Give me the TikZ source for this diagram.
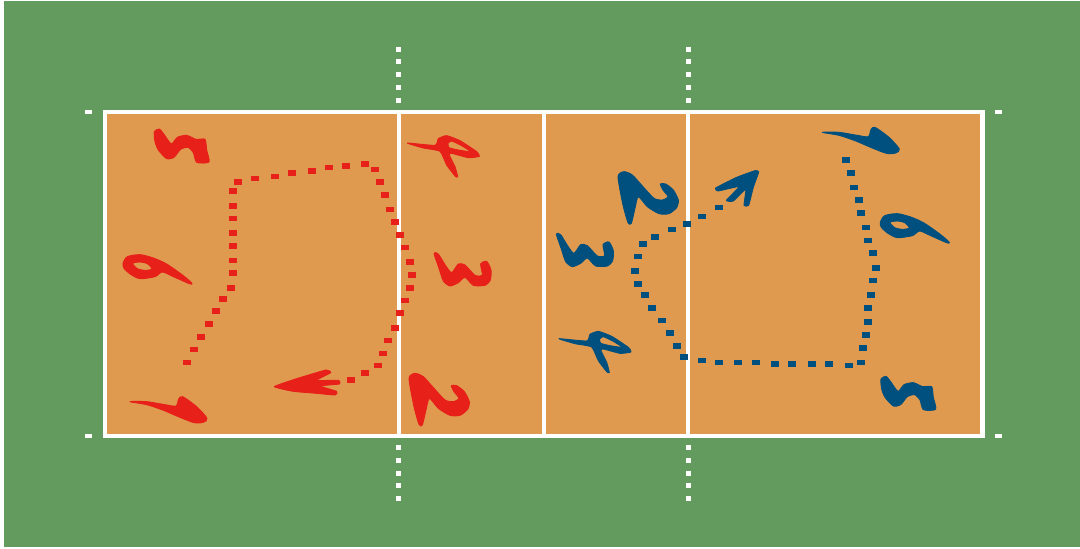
\documentclass[tikz,border=0pt]{standalone}
\definecolor{grass}{HTML}{639B5E}
\definecolor{court}{HTML}{DF9A4F}
\definecolor{teamred}{HTML}{E8201A}
\definecolor{teamblue}{HTML}{00507F}
\tikzset{
  lineW/.style={draw=white,line width=4.2pt},
  tickW/.style={fill=white},
  brush/.style={fill=#1,draw=#1,line width=0.9pt,line join=round},
}
\newcommand\numFive[1]{\filldraw[brush=#1] plot[smooth cycle,tension=.4] coordinates {(193,95)(208,87)(222,103)(244,132)(262,112)(290,106)(318,118)(345,118)(350,150)(357,186)(320,187)(310,158)(294,142)(272,148)(252,172)(230,176)(205,150)(195,125)};}
\newcommand\numSix[1]{\filldraw[brush=#1,even odd rule] plot[smooth cycle,tension=.45] coordinates {(99,490)(112,470)(150,464)(190,474)(230,492)(280,527)(306,550)(298,551)(250,530)(217,516)(195,530)(150,536)(122,523)(102,505)} plot[smooth cycle,tension=.45] coordinates {(128,490)(150,486)(172,491)(186,507)(165,511)(142,506)};}
\newcommand\numSeven[1]{\filldraw[brush=#1] plot[smooth cycle,tension=.45] coordinates {(120,905)(170,905)(225,914)(258,918)(266,897)(278,890)(320,920)(351,955)(340,967)(312,968)(265,950)(218,930)(170,914)};}
\newcommand\numFour[1]{\filldraw[brush=#1,even odd rule] plot[smooth cycle,tension=.3] coordinates {(952,129)(1035,136)(1045,116)(1070,107)(1110,122)(1160,155)(1168,169)(1135,173)(1085,160)(1078,165)(1095,200)(1103,230)(1096,229)(1070,195)(1050,154)(1000,144)} plot[smooth cycle,tension=.3] coordinates {(1074,130)(1085,123)(1115,137)(1142,155)(1105,150)(1077,143)};}
\newcommand\numThree[1]{\filldraw[brush=#1] plot[smooth cycle,tension=.4] coordinates {(1032,460)(1045,462)(1067,497)(1085,518)(1105,492)(1125,495)(1155,526)(1177,525)(1172,492)(1190,484)(1203,510)(1201,540)(1185,556)(1150,556)(1125,532)(1105,548)(1080,558)(1060,543)(1047,505)};}
\newcommand\numTwo[1]{\filldraw[brush=#1] plot[smooth cycle,tension=.4] coordinates {(957,835)(975,820)(1000,830)(1032,865)(1065,900)(1090,905)(1107,895)(1092,875)(1084,857)(1100,857)(1123,875)(1138,905)(1133,928)(1110,946)(1080,946)(1045,925)(1018,895)(1008,930)(997,975)(987,973)(972,920)};}
\begin{document}
\begin{tikzpicture}[x=1pt,y=-1pt]
\useasboundingbox (0,0) rectangle (1080,549);
\fill[white] (0,0) rectangle (1080,549);
\fill[grass] (4,1) rectangle (1080,547);
% court
\fill[court] (104.8,112) rectangle (982.5,435.8);
\draw[lineW] (104.8,112) rectangle (982.5,435.8);
\foreach \cx in {398.8,543.8,688.3}
  \draw[lineW] (\cx,112) -- (\cx,435.8);
% boundary ticks
\foreach \cy in {112,435.8}{
  \fill[tickW] (85,\cy-1.8) rectangle (92,\cy+1.8);
  \fill[tickW] (995,\cy-1.8) rectangle (1002,\cy+1.8);
}
% attack line extensions
\foreach \cx in {398.7,688.3}{
  \foreach \cy in {49.3,61.7,74.7,87,100,447.7,460.7,473,485.7,498}
    \fill[white] (\cx-2.5,\cy-2.5) rectangle (\cx+2.5,\cy+2.5);
}
\begin{scope}[shift={(90,100)},scale=0.33333]
  % red dots
  \foreach \dx/\dy in {290/787,312/748,334/710,356/672,378/633,400/596,422/563,430/519,430/481,430/437,430/399,430/355,430/317,430/273,444/246,495/235,555/229,606/218,665/213,716/202,767/197,826/191,855/208,870/246,885/284,900/328,915/366,929/405,944/442,959/486,967/524,959/563,944/601,929/639,915/683,893/721,878/760,864/797,826/819,782/841}
    \fill[teamred] (\dx-12,\dy-8.5) rectangle (\dx+12,\dy+8.5);
  % blue dots
  \foreach \dx/\dy in {1886/322,1835/349,1791/372,1747/388,1695/410,1658/432,1643/469,1636/513,1643/551,1665/585,1687/623,1717/661,1739/699,1761/737,1783/770,1835/781,1886/787,1945/787,1997/787,2055/792,2107/792,2166/792,2217/792,2276/797,2313/787,2320/743,2328/705,2335/666,2335/623,2342/584,2350/541,2357/503,2350/459,2335/421,2328/382,2313/339,2306/300,2291/262,2284/218,2269/180}
    \fill[teamblue] (\dx-12,\dy-8.5) rectangle (\dx+12,\dy+8.5);
  % red numbers
  \numFive{teamred}
  \numSix{teamred}
  \numSeven{teamred}
  \numFour{teamred}
  \numThree{teamred}
  \numTwo{teamred}
  % red arrow
  \filldraw[brush=teamred] plot[smooth cycle,tension=.25] coordinates {(553,860)(620,836)(708,810)(722,818)(680,841)(746,841)(748,852)(690,858)(740,874)(736,885)(680,880)(610,874)};
  % blue numbers
  \begin{scope}[shift={(2180,742)}]\numFive{teamblue}\end{scope}
  \begin{scope}[shift={(2272,-123)}]\numSix{teamblue}\end{scope}
  \begin{scope}[shift={(2077,-808)}]\numSeven{teamblue}\end{scope}
  \begin{scope}[shift={(455,587)}]\numFour{teamblue}\end{scope}
  \begin{scope}[shift={(367,-58)}]\numThree{teamblue}\end{scope}
  \begin{scope}[shift={(627,-605)}]\numTwo{teamblue}\end{scope}
  % blue arrow
  \filldraw[brush=teamblue] plot[smooth cycle,tension=.25] coordinates {(2006,216)(1990,262)(1976,316)(1962,316)(1967,268)(1930,303)(1909,301)(1947,260)(1884,273)(1877,264)(1940,232)(1995,212)};
\end{scope}
\end{tikzpicture}
\end{document}
